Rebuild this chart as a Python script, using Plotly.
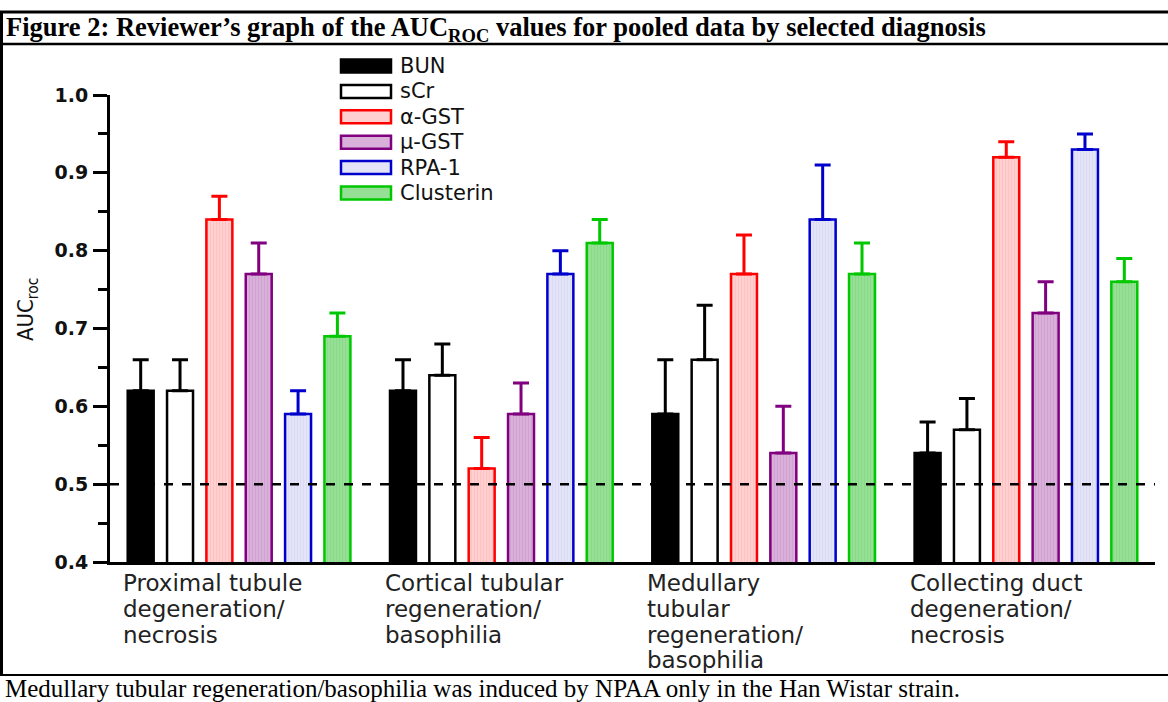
import plotly.graph_objects as go

# ---- data -------------------------------------------------------------
category_lines = [
    ["Proximal tubule", "degeneration/", "necrosis"],
    ["Cortical tubular", "regeneration/", "basophilia"],
    ["Medullary", "tubular", "regeneration/", "basophilia"],
    ["Collecting duct", "degeneration/", "necrosis"],
]
series_names = ["BUN", "sCr", "α-GST", "μ-GST", "RPA-1", "Clusterin"]

bun_auc = [0.62, 0.62, 0.59, 0.54]
scr_auc = [0.62, 0.64, 0.66, 0.57]
agst_auc = [0.84, 0.52, 0.77, 0.92]
mgst_auc = [0.77, 0.59, 0.54, 0.72]
rpa1_auc = [0.59, 0.77, 0.84, 0.93]
clus_auc = [0.69, 0.81, 0.77, 0.76]

bun_err = [0.04, 0.04, 0.07, 0.04]
scr_err = [0.04, 0.04, 0.07, 0.04]
agst_err = [0.03, 0.04, 0.05, 0.02]
mgst_err = [0.04, 0.04, 0.06, 0.04]
rpa1_err = [0.03, 0.03, 0.07, 0.02]
clus_err = [0.03, 0.03, 0.04, 0.03]

y_ticks = [0.4, 0.5, 0.6, 0.7, 0.8, 0.9, 1.0]
reference_auc = 0.5

title_text = ("<b>Figure 2: Reviewer’s graph of the AUC<sub>ROC</sub> values "
              "for pooled data by selected diagnosis</b>")
caption_text = ("Medullary tubular regeneration/basophilia was induced by NPAA "
                "only in the Han Wistar strain.")

# ---- styling ------------------------------------------------------------
values = [bun_auc, scr_auc, agst_auc, mgst_auc, rpa1_auc, clus_auc]
errors = [bun_err, scr_err, agst_err, mgst_err, rpa1_err, clus_err]
fills = ["#000000", "#ffffff", "#ffd0d0", "#d9b0d9", "#e4e4f8", "#96e096"]
edges = ["#000000", "#000000", "#ff0000", "#800080", "#0000cc", "#00c800"]
hatch = ["", "", "#ffb0b0", "#c490c4", "#cfcff0", "#7ad07a"]

W, H = 1168, 702
L, R, T, B = 110, 1155, 95, 562          # plot area in pixels
X_RANGE = [-0.492, 3.492]


def px(x):
    return (x - L) / (R - L)


def py(y):
    return (B - y) / (B - T)


SANS = "DejaVu Sans, Liberation Sans, Arial, sans-serif"
SERIF = "Liberation Serif, Times New Roman, serif"

fig = go.Figure()
x_pos = list(range(len(category_lines)))

for name, vals, errs, fc, ec, hc in zip(series_names, values, errors,
                                         fills, edges, hatch):
    marker = dict(color=fc, line=dict(color=ec, width=2.5))
    if hc:
        marker["pattern"] = dict(shape="|", fgcolor=hc, bgcolor=fc,
                                 size=3, solidity=0.3)
    fig.add_trace(go.Bar(
        x=x_pos, y=vals, name=name, marker=marker, showlegend=False,
        error_y=dict(type="data", symmetric=False, array=errs,
                     arrayminus=[0] * len(errs), color=ec,
                     thickness=3, width=8),
    ))

shapes = []
annotations = []

# reference line at AUC = 0.5
shapes.append(dict(type="line", xref="x", yref="y", x0=X_RANGE[0],
                   x1=X_RANGE[1], y0=reference_auc, y1=reference_auc,
                   line=dict(color="black", width=2.5, dash="dash"),
                   layer="above"))

# table frame around the figure
frame = [
    (0, 12, W, 12, 3),
    (0, 44, W, 44, 2.5),
    (1.5, 12, 1.5, 674, 3),
    (0, 675, W, 675, 2),
]
for x0, y0, x1, y1, w in frame:
    shapes.append(dict(type="line", xref="paper", yref="paper",
                       x0=px(x0), x1=px(x1), y0=py(y0), y1=py(y1),
                       line=dict(color="black", width=w), layer="above"))

# legend swatches and labels
for i, (name, fc, ec) in enumerate(zip(series_names, fills, edges)):
    cy = 66 + 25.4 * i
    shapes.append(dict(type="rect", xref="paper", yref="paper",
                       x0=px(341), x1=px(391), y0=py(cy - 6.5), y1=py(cy + 6.5),
                       fillcolor=fc, line=dict(color=ec, width=2.5)))
    annotations.append(dict(text=name, xref="paper", yref="paper",
                            x=px(398), y=py(cy), xanchor="left",
                            yanchor="middle", showarrow=False,
                            font=dict(family=SANS, size=21, color="#111")))

# category labels, left aligned under each group
line_y = [583, 609, 634.5, 660]
for i, lines in enumerate(category_lines):
    for j, line in enumerate(lines):
        annotations.append(dict(text=line, xref="x", yref="paper",
                                x=i - 0.447, y=py(line_y[j]),
                                xanchor="left", yanchor="middle",
                                showarrow=False, borderpad=0,
                                font=dict(family=SANS, size=23,
                                          color="#222")))

# y-axis title
annotations.append(dict(text="AUC<sub>roc</sub>", xref="paper", yref="paper",
                        x=px(27), y=py(310), textangle=-90,
                        xanchor="center", yanchor="middle", showarrow=False,
                        font=dict(family="Liberation Sans Narrow, "
                                  "DejaVu Sans Condensed, Liberation Sans",
                                  size=22, color="#111")))

# figure title and caption
annotations.append(dict(text=title_text, xref="paper", yref="paper",
                        x=px(4), y=py(29), xanchor="left", yanchor="middle",
                        showarrow=False,
                        font=dict(family=SERIF, size=26.5, color="black")))
annotations.append(dict(text=caption_text, xref="paper", yref="paper",
                        x=px(4), y=py(688), xanchor="left", yanchor="middle",
                        showarrow=False, borderpad=0,
                        font=dict(family=SERIF, size=25, color="black")))

fig.update_layout(
    width=W, height=H,
    margin=dict(l=L, r=W - R, t=T, b=H - B, pad=0),
    paper_bgcolor="white", plot_bgcolor="white",
    barmode="group", bargap=0.1, bargroupgap=0.34,
    shapes=shapes, annotations=annotations,
    xaxis=dict(range=X_RANGE, showgrid=False, zeroline=False,
               showline=True, linecolor="black", linewidth=3,
               showticklabels=False, ticks=""),
    yaxis=dict(range=[0.4, 1.0], tickvals=y_ticks, tickformat=".1f",
               showgrid=False, zeroline=False, showline=True,
               linecolor="black", linewidth=3, ticks="outside",
               ticklen=14, tickwidth=2.5, tickcolor="black",
               ticklabelstandoff=1,
               tickfont=dict(family=SANS, size=19, color="#111",
                             weight="bold"),
               minor=dict(dtick=0.05, ticks="outside", ticklen=9,
                          tickwidth=2.5, tickcolor="black")),
)

fig.write_html("out.html")
